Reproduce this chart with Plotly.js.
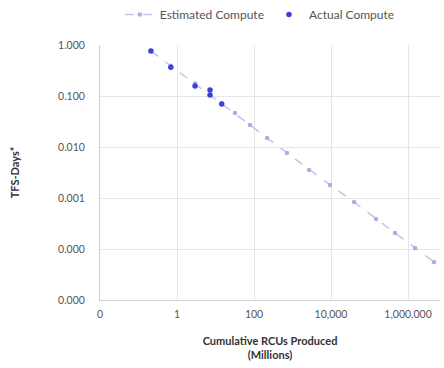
<!DOCTYPE html>
<html>
<head>
<meta charset="utf-8">
<script src="https://cdn.plot.ly/plotly-3.0.1.min.js"></script>
<style>
  html, body { margin: 0; padding: 0; background: #fff; }
  #chart { width: 444px; height: 368px; }
</style>
</head>
<body>
<div id="chart"></div>
<script>
// Cumulative RCUs produced (millions) vs. TFS-days per unit
const actualRCUs = [0.21, 0.69, 2.94, 7.2, 7.2, 14.5];
const actualTFS = [0.76, 0.365, 0.157, 0.131, 0.105, 0.0697];

const estimatedRCUs = [0.21, 0.69, 2.94, 7.2, 14.5, 32, 78.7, 218, 720, 2690, 9420,
  39500, 147600, 459000, 1520000, 4730000];
const estimatedTFS = [0.76, 0.39, 0.175, 0.105, 0.071, 0.0464, 0.027, 0.015, 0.0076,
  0.00354, 0.0018, 0.000836, 0.000388, 0.000206, 0.000105, 0.0000556];

const xTickVals = [0.01, 1, 100, 10000, 1000000];
const xTickText = ['0', '1', '100', '10,000', '1,000,000'];
const yTickVals = [1, 0.1, 0.01, 0.001, 0.0001, 0.00001];
const yTickText = ['1.000', '0.100', '0.010', '0.001', '0.000', '0.000'];

const font = 'Lato, "Open Sans", sans-serif';

const traces = [
  {
    x: estimatedRCUs, y: estimatedTFS,
    name: 'Estimated Compute',
    mode: 'lines+markers',
    line: { color: '#c4c4ec', width: 1.5, dash: 'dash' },
    marker: { color: '#aeaee6', size: 4.5 }
  },
  {
    x: actualRCUs, y: actualTFS,
    name: 'Actual Compute',
    mode: 'markers',
    marker: { color: '#4040d8', size: 5.5 }
  }
];

const layout = {
  width: 444, height: 368,
  margin: { l: 100, r: 4, t: 45, b: 68, autoexpand: false },
  paper_bgcolor: '#fff', plot_bgcolor: '#fff',
  font: { family: font, color: '#555', size: 10 },
  showlegend: true,
  legend: {
    orientation: 'h', x: 0.47, xanchor: 'center', y: 1.12, yanchor: 'middle',
    font: { size: 12, color: '#555' }, itemwidth: 30, tracegroupgap: 0
  },
  xaxis: {
    type: 'log', range: [-2, 6.83],
    tickvals: xTickVals, ticktext: xTickText,
    showgrid: true, gridcolor: '#e6e6e6',
    showline: true, linecolor: '#d0d0d0',
    zeroline: false, ticks: '', ticklabelstandoff: 4,
    tickfont: { size: 10.5, color: '#555' },
    title: { text: '<b>Cumulative RCUs Produced<br>(Millions)</b>', font: { size: 11, color: '#333' }, standoff: 18 }
  },
  yaxis: {
    type: 'log', range: [-5, 0],
    tickvals: yTickVals, ticktext: yTickText,
    showgrid: true, gridcolor: '#e6e6e6',
    showline: true, linecolor: '#d0d0d0',
    zeroline: false, ticks: '', ticklabelstandoff: 12,
    tickfont: { size: 10.5, color: '#555' },
    title: { text: '<b>TFS-Days*</b>', font: { size: 11, color: '#333' }, standoff: 36 }
  }
};

Plotly.newPlot('chart', traces, layout, { displayModeBar: false, staticPlot: true });
</script>
</body>
</html>
